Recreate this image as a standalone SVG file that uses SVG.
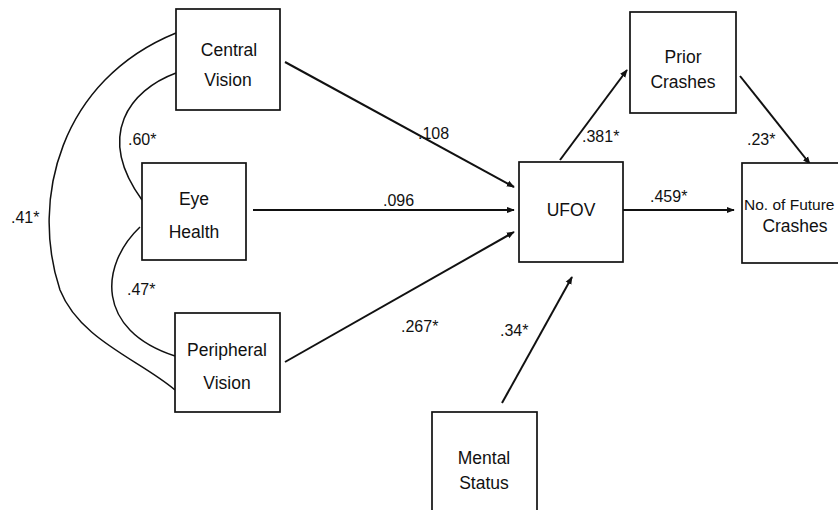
<svg xmlns="http://www.w3.org/2000/svg" width="838" height="510" viewBox="0 0 838 510">
<style>
.box{fill:#fff;stroke:#111;stroke-width:1.7}
.t{font-family:"Liberation Sans",Arial,sans-serif;font-size:17.5px;fill:#111;text-anchor:middle}
.l{font-family:"Liberation Sans",Arial,sans-serif;font-size:16px;fill:#111}
.c{fill:none;stroke:#111;stroke-width:1.5}
.a{fill:none;stroke:#111;stroke-width:2;marker-end:url(#ah)}
</style>
<defs>
<marker id="ah" viewBox="0 0 10 10" refX="9" refY="5" markerWidth="8" markerHeight="8" markerUnits="userSpaceOnUse" orient="auto">
<path d="M0,1 L10,5 L0,9 Z" fill="#111"/>
</marker>
</defs>
<rect width="838" height="510" fill="#fff"/>
<g id="connectors">
<path class="c" d="M176,73 C130,90 95,135 142,200"/>
<path class="c" d="M140,227 C100,265 95,330 175,356"/>
<path class="c" d="M176,33 C60,80 30,200 60,290 C80,340 140,360 175,390"/>
<line class="a" x1="285" y1="62" x2="514" y2="187"/>
<line class="a" x1="253" y1="210" x2="514" y2="210"/>
<line class="a" x1="285" y1="362" x2="514" y2="232"/>
<line class="a" x1="560" y1="160" x2="627" y2="70"/>
<line class="a" x1="740" y1="76" x2="810" y2="164"/>
<line class="a" x1="623" y1="210" x2="734" y2="210"/>
<line class="a" x1="502" y1="403" x2="572" y2="277"/>
<text class="l" x="418" y="139">.108</text>
<text class="l" x="383" y="206">.096</text>
<text class="l" x="401" y="332">.267*</text>
<text class="l" x="500" y="336">.34*</text>
<text class="l" x="582" y="142">.381*</text>
<text class="l" x="747" y="145">.23*</text>
<text class="l" x="650" y="202">.459*</text>
<text class="l" x="128" y="145">.60*</text>
<text class="l" x="11" y="223">.41*</text>
<text class="l" x="127" y="295">.47*</text>
</g>
<g id="central-vision">
<rect class="box" x="176" y="9" width="104" height="101"/>
<text class="t" x="229" y="56">Central</text>
<text class="t" x="228" y="86">Vision</text>
</g>
<g id="eye-health">
<rect class="box" x="142" y="163" width="104" height="97"/>
<text class="t" x="194" y="205">Eye</text>
<text class="t" x="194" y="238">Health</text>
</g>
<g id="peripheral-vision">
<rect class="box" x="175" y="313" width="105" height="99"/>
<text class="t" x="227" y="356">Peripheral</text>
<text class="t" x="227" y="389">Vision</text>
</g>
<g id="prior-crashes">
<rect class="box" x="630" y="12" width="106" height="101"/>
<text class="t" x="683" y="63">Prior</text>
<text class="t" x="683" y="88">Crashes</text>
</g>
<g id="ufov">
<rect class="box" x="519" y="162" width="104" height="100"/>
<text class="t" x="571" y="216">UFOV</text>
</g>
<g id="future-crashes">
<rect class="box" x="742" y="163" width="105" height="100"/>
<text class="t" x="744" y="210" style="text-anchor:start;font-size:15.5px">No. of Future</text>
<text class="t" x="795" y="232">Crashes</text>
</g>
<g id="mental-status">
<rect class="box" x="432" y="412" width="105" height="110"/>
<text class="t" x="484" y="464">Mental</text>
<text class="t" x="484" y="489">Status</text>
</g>
</svg>
